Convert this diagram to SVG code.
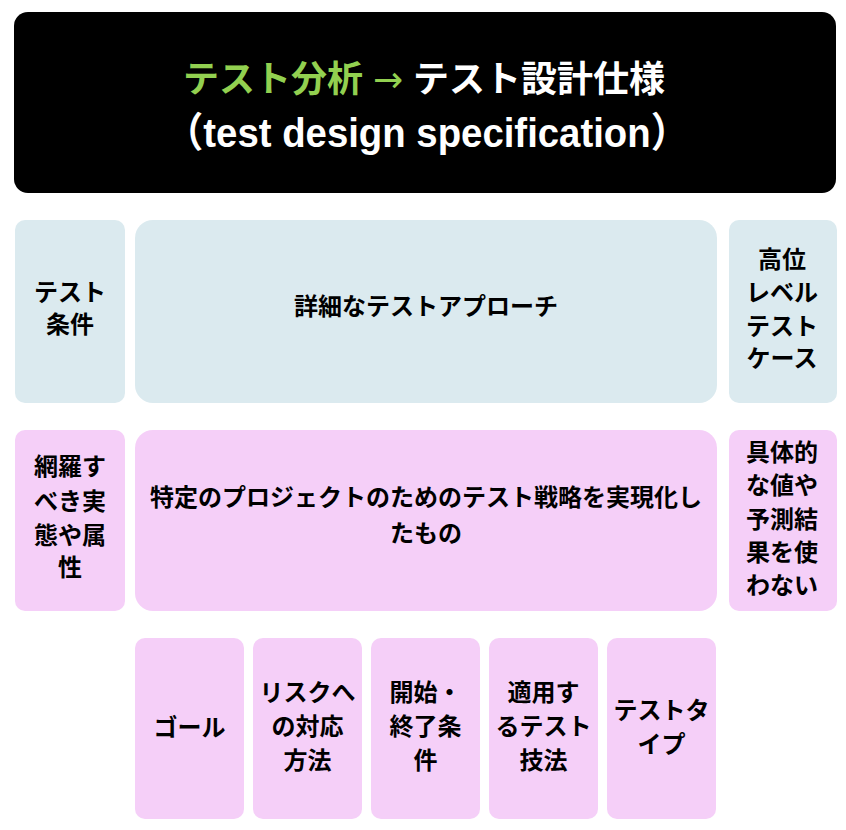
<svg xmlns="http://www.w3.org/2000/svg" width="846" height="830" viewBox="0 0 846 830">
<style>
  .blue { fill: #dbeaef; }
  .pink { fill: #f5cff8; }
  .t { font-family: "Noto Sans CJK JP", "Liberation Sans", sans-serif; font-weight: bold; font-size: 24px; fill: #000; text-anchor: middle; }
  .title { font-family: "Liberation Sans", "Noto Sans CJK JP", sans-serif; font-weight: bold; fill: #fff; text-anchor: middle; }
</style>
<rect width="846" height="830" fill="#fff"/>
<g id="title">
  <rect x="14" y="12" width="822" height="181" rx="14" fill="#000"/>
  <text class="title" x="424" y="92" font-size="36" font-family="Noto Sans CJK JP, sans-serif"><tspan fill="#92d050">テスト分析 </tspan><tspan fill="#92d050" font-family="DejaVu Sans, sans-serif" font-weight="normal">→</tspan><tspan fill="#fff"> テスト設計仕様</tspan></text>
  <text class="title" x="427" y="147" font-size="41" textLength="524" lengthAdjust="spacingAndGlyphs">（test design specification）</text>
</g>
<g id="test-conditions">
  <rect class="blue" x="15" y="220" width="110" height="183" rx="10"/>
  <text class="t" x="70" y="301">テスト</text>
  <text class="t" x="70" y="333">条件</text>
</g>
<g id="detailed-approach">
  <rect class="blue" x="135" y="220" width="582" height="183" rx="18"/>
  <text class="t" x="426" y="315">詳細なテストアプローチ</text>
</g>
<g id="high-level-test-cases">
  <rect class="blue" x="729" y="220" width="108" height="183" rx="10"/>
  <text class="t" x="782" y="267.5">高位</text>
  <text class="t" x="782" y="301">レベル</text>
  <text class="t" x="782" y="334.5">テスト</text>
  <text class="t" x="782" y="367">ケース</text>
</g>
<g id="coverage-items">
  <rect class="pink" x="15" y="430" width="110" height="181" rx="10"/>
  <text class="t" x="70" y="475">網羅す</text>
  <text class="t" x="70" y="509.5">べき実</text>
  <text class="t" x="70" y="543.5">態や属</text>
  <text class="t" x="70" y="576">性</text>
</g>
<g id="strategy-realization">
  <rect class="pink" x="135" y="430" width="582" height="181" rx="18"/>
  <text class="t" x="426" y="505.5">特定のプロジェクトのためのテスト戦略を実現化し</text>
  <text class="t" x="426" y="541.5">たもの</text>
</g>
<g id="no-concrete-values">
  <rect class="pink" x="729" y="430" width="108" height="181" rx="10"/>
  <text class="t" x="782" y="461">具体的</text>
  <text class="t" x="782" y="493.5">な値や</text>
  <text class="t" x="782" y="527.5">予測結</text>
  <text class="t" x="782" y="560.5">果を使</text>
  <text class="t" x="782" y="593.5">わない</text>
</g>
<g id="goal">
  <rect class="pink" x="135" y="638" width="109" height="181" rx="10"/>
  <text class="t" x="189.5" y="735.5">ゴール</text>
</g>
<g id="risk-response">
  <rect class="pink" x="253" y="638" width="109" height="181" rx="10"/>
  <text class="t" x="307.5" y="700.5">リスクへ</text>
  <text class="t" x="307.5" y="734.5">の対応</text>
  <text class="t" x="307.5" y="768.5">方法</text>
</g>
<g id="entry-exit">
  <rect class="pink" x="371" y="638" width="109" height="181" rx="10"/>
  <text class="t" x="425.5" y="700.5">開始・</text>
  <text class="t" x="425.5" y="734.5">終了条</text>
  <text class="t" x="425.5" y="768.5">件</text>
</g>
<g id="techniques">
  <rect class="pink" x="489" y="638" width="109" height="181" rx="10"/>
  <text class="t" x="543.5" y="700.5">適用す</text>
  <text class="t" x="543.5" y="734.5">るテスト</text>
  <text class="t" x="543.5" y="768.5">技法</text>
</g>
<g id="test-types">
  <rect class="pink" x="607" y="638" width="109" height="181" rx="10"/>
  <text class="t" x="661.5" y="718.5">テストタ</text>
  <text class="t" x="661.5" y="752.5">イプ</text>
</g>
<g id="connectors"></g>
</svg>
